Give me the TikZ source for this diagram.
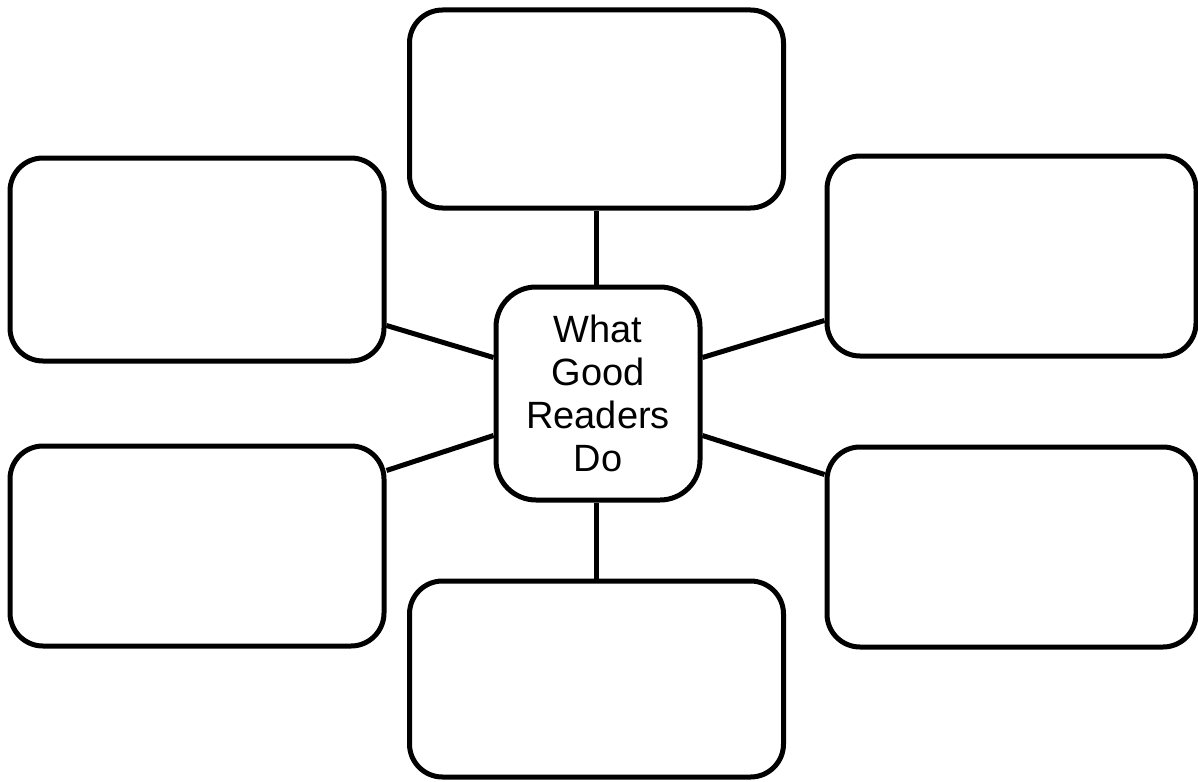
\documentclass[tikz,border=0pt]{standalone}
\usepackage{fontspec}
\setmainfont{Liberation Sans}
\usetikzlibrary{calc}
\begin{document}
\begin{tikzpicture}[x=1pt,y=-1pt,
  box/.style={draw=black, line width=5pt, rounded corners=33pt, fill=white,
    minimum width=374pt, minimum height=201pt, inner sep=0pt},
  hub/.style={draw=black, line width=5pt, rounded corners=40pt, fill=white,
    minimum width=204pt, minimum height=213pt, inner sep=0pt, align=center,
    font=\fontsize{38}{43}\selectfont},
  link/.style={line width=5pt, draw=black}]
\useasboundingbox (0,0) rectangle (1198,781);
\node[box, minimum height=198pt] (t) at (596.5,109) {};
\node[box, minimum height=196pt] (b) at (596.5,679) {};
\node[box, minimum height=203pt] (lu) at (197,259.5) {};
\node[box, minimum height=200pt] (ll) at (197,546) {};
\node[box, minimum width=369pt, minimum height=200pt] (ru) at (1011.5,256) {};
\node[box, minimum width=369pt, minimum height=200pt] (rl) at (1011.5,547) {};
\node[hub] (c) at (598,393.5) {What\\Good\\Readers\\Do};
\draw[link] (t.south) -- (t.south |- c.north);
\draw[link] (b.north) -- (b.north |- c.south);
\draw[link] ($(lu.south east)+(0,38pt)$) -- ($(c.north west)+(0,-73pt)$);
\draw[link] ($(ll.north east)+(0,-27pt)$) -- ($(c.south west)+(0,67pt)$);
\draw[link] ($(c.north east)+(0,-73pt)$) -- ($(ru.south west)+(0,38pt)$);
\draw[link] ($(c.south east)+(0,67pt)$) -- ($(rl.north west)+(0,-30pt)$);
\end{tikzpicture}
\end{document}
